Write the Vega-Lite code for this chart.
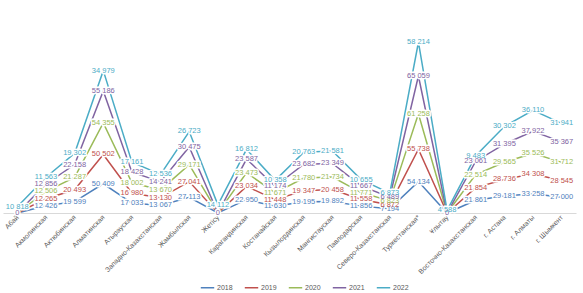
{
  "$schema": "https://vega.github.io/schema/vega-lite/v6.json",
  "width": 573,
  "height": 203,
  "autosize": {"type": "none"},
  "padding": {"left": 3, "top": 10, "right": 7, "bottom": 80},
  "background": "white",
  "config": {
    "view": {"stroke": null},
    "font": "Liberation Sans",
    "locale": {"number": {"decimal": ",", "thousands": " ", "grouping": [3], "currency": ["", ""]}}
  },
  "data": {"values": [
    {"region": "Абай", "year": "2018", "value": 0},
    {"region": "Абай", "year": "2019", "value": 0},
    {"region": "Абай", "year": "2020", "value": 0},
    {"region": "Абай", "year": "2021", "value": 0},
    {"region": "Абай", "year": "2022", "value": 10818},
    {"region": "Акмолинская", "year": "2018", "value": 12426},
    {"region": "Акмолинская", "year": "2019", "value": 12265},
    {"region": "Акмолинская", "year": "2020", "value": 12506},
    {"region": "Акмолинская", "year": "2021", "value": 12856},
    {"region": "Акмолинская", "year": "2022", "value": 11563},
    {"region": "Актюбинская", "year": "2018", "value": 19599},
    {"region": "Актюбинская", "year": "2019", "value": 20493},
    {"region": "Актюбинская", "year": "2020", "value": 21287},
    {"region": "Актюбинская", "year": "2021", "value": 22158},
    {"region": "Актюбинская", "year": "2022", "value": 19302},
    {"region": "Алматинская", "year": "2018", "value": 50409},
    {"region": "Алматинская", "year": "2019", "value": 50502},
    {"region": "Алматинская", "year": "2020", "value": 54355},
    {"region": "Алматинская", "year": "2021", "value": 55186},
    {"region": "Алматинская", "year": "2022", "value": 34979},
    {"region": "Атырауская", "year": "2018", "value": 17033},
    {"region": "Атырауская", "year": "2019", "value": 16980},
    {"region": "Атырауская", "year": "2020", "value": 18002},
    {"region": "Атырауская", "year": "2021", "value": 18428},
    {"region": "Атырауская", "year": "2022", "value": 17161},
    {"region": "Западно-Казахстанская", "year": "2018", "value": 13067},
    {"region": "Западно-Казахстанская", "year": "2019", "value": 13130},
    {"region": "Западно-Казахстанская", "year": "2020", "value": 13670},
    {"region": "Западно-Казахстанская", "year": "2021", "value": 14241},
    {"region": "Западно-Казахстанская", "year": "2022", "value": 12536},
    {"region": "Жамбылская", "year": "2018", "value": 27113},
    {"region": "Жамбылская", "year": "2019", "value": 27041},
    {"region": "Жамбылская", "year": "2020", "value": 29171},
    {"region": "Жамбылская", "year": "2021", "value": 30475},
    {"region": "Жамбылская", "year": "2022", "value": 26723},
    {"region": "Жетісу", "year": "2018", "value": 0},
    {"region": "Жетісу", "year": "2019", "value": 0},
    {"region": "Жетісу", "year": "2020", "value": 0},
    {"region": "Жетісу", "year": "2021", "value": 0},
    {"region": "Жетісу", "year": "2022", "value": 14112},
    {"region": "Карагандинская", "year": "2018", "value": 22950},
    {"region": "Карагандинская", "year": "2019", "value": 23034},
    {"region": "Карагандинская", "year": "2020", "value": 23473},
    {"region": "Карагандинская", "year": "2021", "value": 23587},
    {"region": "Карагандинская", "year": "2022", "value": 16812},
    {"region": "Костанайская", "year": "2018", "value": 11630},
    {"region": "Костанайская", "year": "2019", "value": 11448},
    {"region": "Костанайская", "year": "2020", "value": 11671},
    {"region": "Костанайская", "year": "2021", "value": 11174},
    {"region": "Костанайская", "year": "2022", "value": 10358},
    {"region": "Кызылординская", "year": "2018", "value": 19195},
    {"region": "Кызылординская", "year": "2019", "value": 19347},
    {"region": "Кызылординская", "year": "2020", "value": 21780},
    {"region": "Кызылординская", "year": "2021", "value": 23682},
    {"region": "Кызылординская", "year": "2022", "value": 20763},
    {"region": "Мангистауская", "year": "2018", "value": 19892},
    {"region": "Мангистауская", "year": "2019", "value": 20458},
    {"region": "Мангистауская", "year": "2020", "value": 21734},
    {"region": "Мангистауская", "year": "2021", "value": 23349},
    {"region": "Мангистауская", "year": "2022", "value": 21581},
    {"region": "Павлодарская", "year": "2018", "value": 11856},
    {"region": "Павлодарская", "year": "2019", "value": 11558},
    {"region": "Павлодарская", "year": "2020", "value": 11771},
    {"region": "Павлодарская", "year": "2021", "value": 11667},
    {"region": "Павлодарская", "year": "2022", "value": 10655},
    {"region": "Северо-Казахстанская", "year": "2018", "value": 7194},
    {"region": "Северо-Казахстанская", "year": "2019", "value": 6872},
    {"region": "Северо-Казахстанская", "year": "2020", "value": 6823},
    {"region": "Северо-Казахстанская", "year": "2021", "value": 6489},
    {"region": "Северо-Казахстанская", "year": "2022", "value": 6873},
    {"region": "Туркестанская*", "year": "2018", "value": 54134},
    {"region": "Туркестанская*", "year": "2019", "value": 55738},
    {"region": "Туркестанская*", "year": "2020", "value": 61258},
    {"region": "Туркестанская*", "year": "2021", "value": 65059},
    {"region": "Туркестанская*", "year": "2022", "value": 58214},
    {"region": "Ұлытау", "year": "2018", "value": 0},
    {"region": "Ұлытау", "year": "2019", "value": 0},
    {"region": "Ұлытау", "year": "2020", "value": 0},
    {"region": "Ұлытау", "year": "2021", "value": 0},
    {"region": "Ұлытау", "year": "2022", "value": 4588},
    {"region": "Восточно-Казахстанская", "year": "2018", "value": 21861},
    {"region": "Восточно-Казахстанская", "year": "2019", "value": 21854},
    {"region": "Восточно-Казахстанская", "year": "2020", "value": 22514},
    {"region": "Восточно-Казахстанская", "year": "2021", "value": 23061},
    {"region": "Восточно-Казахстанская", "year": "2022", "value": 9483},
    {"region": "г. Астана", "year": "2018", "value": 29181},
    {"region": "г. Астана", "year": "2019", "value": 28736},
    {"region": "г. Астана", "year": "2020", "value": 29565},
    {"region": "г. Астана", "year": "2021", "value": 31395},
    {"region": "г. Астана", "year": "2022", "value": 30302},
    {"region": "г. Алматы", "year": "2018", "value": 33258},
    {"region": "г. Алматы", "year": "2019", "value": 34308},
    {"region": "г. Алматы", "year": "2020", "value": 35526},
    {"region": "г. Алматы", "year": "2021", "value": 37922},
    {"region": "г. Алматы", "year": "2022", "value": 36110},
    {"region": "г. Шымкент", "year": "2018", "value": 27000},
    {"region": "г. Шымкент", "year": "2019", "value": 28545},
    {"region": "г. Шымкент", "year": "2020", "value": 31712},
    {"region": "г. Шымкент", "year": "2021", "value": 35367},
    {"region": "г. Шымкент", "year": "2022", "value": 31941}
  ]},
  "transform": [
    {"stack": "value", "groupby": ["region"], "sort": [{"field": "year", "order": "ascending"}], "as": ["v0", "v1"]}
  ],
  "layer": [
    {
      "mark": {"type": "line", "strokeWidth": 1.5},
      "encoding": {
        "x": {"field": "region", "type": "nominal", "sort": null, "scale": {"type": "point", "padding": 0.5},
          "axis": {"title": null, "labelAngle": -45, "labelAlign": "right", "labelBaseline": "middle", "labelFontSize": 7, "labelColor": "#595959", "ticks": false, "domainColor": "#d9d9d9", "labelPadding": 3, "labelOverlap": false}},
        "y": {"field": "v1", "type": "quantitative", "scale": {"domain": [0, 325000]}, "axis": null},
        "color": {"field": "year", "type": "nominal",
          "scale": {"domain": ["2018", "2019", "2020", "2021", "2022"], "range": ["#4f81bd", "#c0504d", "#9bbb59", "#8064a2", "#4bacc6"]},
          "legend": {"title": null, "orient": "none", "direction": "horizontal", "legendX": 197, "legendY": 270, "symbolType": "stroke", "symbolSize": 180, "symbolStrokeWidth": 1.5, "labelFontSize": 7, "labelColor": "#595959", "columnPadding": 8, "labelOffset": 2}}
      }
    },
    {
      "transform": [{"filter": "datum.value > 0 || datum.year == '2021'"}],
      "mark": {"type": "text", "fontSize": 7.5, "fill": "white", "stroke": "white", "strokeWidth": 3, "strokeJoin": "round"},
      "encoding": {
        "x": {"field": "region", "type": "nominal", "sort": null},
        "y": {"field": "v1", "type": "quantitative"},
        "detail": {"field": "year", "type": "nominal"},
        "text": {"field": "value", "type": "quantitative", "format": ",d"}
      }
    },
    {
      "transform": [{"filter": "datum.value > 0 || datum.year == '2021'"}],
      "mark": {"type": "text", "fontSize": 7.5},
      "encoding": {
        "x": {"field": "region", "type": "nominal", "sort": null},
        "y": {"field": "v1", "type": "quantitative"},
        "color": {"field": "year", "type": "nominal"},
        "text": {"field": "value", "type": "quantitative", "format": ",d"}
      }
    }
  ]
}
